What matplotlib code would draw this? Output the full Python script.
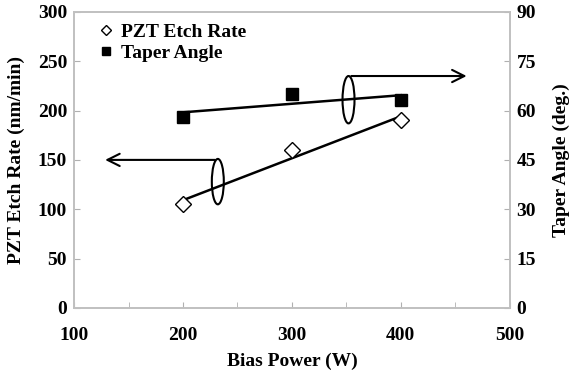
import numpy as np
import matplotlib.pyplot as plt
from matplotlib.patches import Ellipse

plt.rcParams['font.family'] = ['Liberation Serif', 'DejaVu Serif']
plt.rcParams['font.weight'] = 'bold'

bias_power = [200, 300, 400]
etch_rate = [105, 160, 190]        # nm/min
taper_angle = [58.0, 65.0, 63.2]   # deg

fig = plt.figure(figsize=(5.74, 3.71), dpi=100)
ax = fig.add_axes([0.129, 0.170, 0.759, 0.798])
ax2 = ax.twinx()

ax.set_xlim(100, 500)
ax.set_ylim(0, 300)
ax2.set_ylim(0, 90)

# fitted trend lines
x_fit = np.array([200, 400])
p1 = np.polyfit(bias_power, etch_rate, 1)
p2 = np.polyfit(bias_power, taper_angle, 1)
ax.plot(x_fit, np.polyval(p1, x_fit), color='black', lw=1.8)
ax2.plot(x_fit, np.polyval(p2, x_fit), color='black', lw=1.8)

ax.plot(bias_power, etch_rate, 'D', ms=8, mfc='white', mec='black', mew=1.0,
        label='PZT Etch Rate', zorder=5)
ax2.plot(bias_power, taper_angle, 's', ms=8, color='black',
         label='Taper Angle', zorder=5)

# ellipses and arrows
ax.add_patch(Ellipse((232, 128), 11, 46, fill=False, lw=1.5, ec='black'))
ax.annotate('', xy=(126, 150), xytext=(232, 150),
            arrowprops=dict(arrowstyle='->', lw=1.5, color='black',
                            mutation_scale=22))
ax.add_patch(Ellipse((352, 211), 11, 48, fill=False, lw=1.5, ec='black'))
ax.annotate('', xy=(463, 235), xytext=(352, 235),
            arrowprops=dict(arrowstyle='->', lw=1.5, color='black',
                            mutation_scale=22))

ax.set_xticks([100, 200, 300, 400, 500])
ax.set_xticks([150, 250, 350, 450], minor=True)
ax.set_yticks(range(0, 301, 50))
ax2.set_yticks(range(0, 91, 15))

for a in (ax, ax2):
    for s in a.spines.values():
        s.set_color('#c0c0c0')
        s.set_linewidth(1.2)
    a.tick_params(which='both', direction='in', length=4, color='#b0b0b0',
                  labelsize=14)
ax.tick_params(axis='x', pad=14)
ax.tick_params(axis='y', pad=5)
ax2.tick_params(axis='y', pad=5)

ax.set_xlabel('Bias Power (W)', fontsize=14, fontweight='bold', labelpad=6)
ax.set_ylabel('PZT Etch Rate (nm/min)', fontsize=14, fontweight='bold', labelpad=9)
ax2.set_ylabel('Taper Angle (deg.)', fontsize=14, fontweight='bold', labelpad=12)

h1, l1 = ax.get_legend_handles_labels()
h2, l2 = ax2.get_legend_handles_labels()
ax.legend(h1 + h2, l1 + l2, loc='upper left', bbox_to_anchor=(0.03, 1.0),
          frameon=False, fontsize=14, handlelength=0.7, handletextpad=0.45,
          labelspacing=0.15, borderaxespad=0.2, markerscale=0.7)

fig.savefig('out.png', dpi=100)
